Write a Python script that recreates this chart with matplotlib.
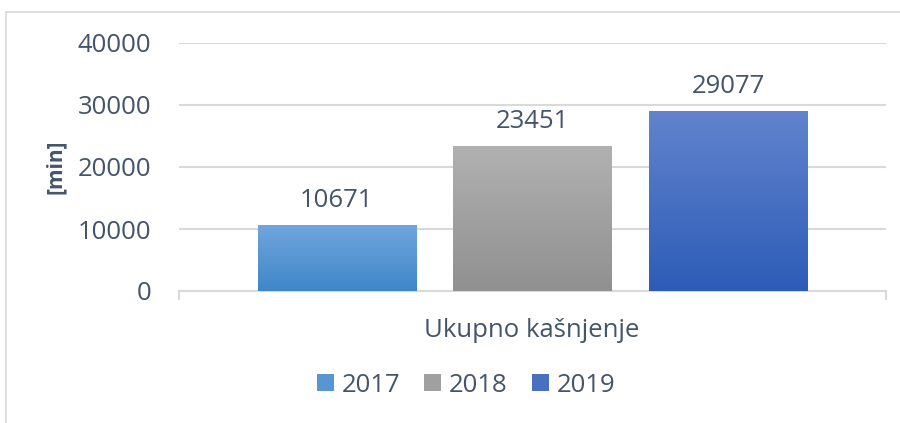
import matplotlib.pyplot as plt
import matplotlib.colors as mcolors
import numpy as np
from matplotlib.patches import Patch

plt.rcParams['font.family'] = ['Open Sans', 'DejaVu Sans']

years = ['2017', '2018', '2019']
values = [10671, 23451, 29077]
category = 'Ukupno kašnjenje'
# gradient colours for each bar: (top, bottom)
grad = [('#71a7dd', '#3f86c8'),
        ('#b1b1b1', '#909090'),
        ('#6284cd', '#2d5cb7')]
txt = '#44546a'
grid_c = '#d9d9d9'
fs = 18.5

fig = plt.figure(figsize=(9, 4.23), dpi=100)
ax = fig.add_axes([179/900, 1-291/423, 707/900, 248/423])

step = 0.277
width = 0.2235
pos = [(i - 1) * step for i in range(len(values))]

bars = ax.bar(pos, values, width=width, color='none', zorder=3)
for b, (top, bot) in zip(bars, grad):
    cmap = mcolors.LinearSegmentedColormap.from_list('g', [bot, top])
    x0, y0 = b.get_x(), b.get_y()
    w, h = b.get_width(), b.get_height()
    im = ax.imshow(np.linspace(0, 1, 256).reshape(-1, 1), cmap=cmap, origin='lower',
                   extent=[x0, x0 + w, y0, y0 + h], aspect='auto', zorder=3)
    im.set_clip_path(b)
    ax.text(x0 + w/2, h + 1900, f'{h:d}', ha='center', va='bottom',
            fontsize=fs, color=txt)

ax.set_xlim(-0.5, 0.5)
ax.set_ylim(0, 40000)
ax.set_yticks([0, 10000, 20000, 30000, 40000])
ax.tick_params(axis='y', length=0, labelsize=fs, labelcolor=txt, pad=20)
ax.set_xticks([])
ax.grid(axis='y', color=grid_c, lw=1.5, zorder=0)
for s in ['top', 'right', 'left']:
    ax.spines[s].set_visible(False)
ax.spines['bottom'].set_color(grid_c)
ax.spines['bottom'].set_linewidth(1.5)
# category boundary ticks
for xb in [-0.5, 0.5]:
    ax.plot([xb, xb], [0, -1300], color=grid_c, lw=1.5, clip_on=False)

ax.set_ylabel('[min]', fontsize=15, fontweight='bold', color=txt)
ax.yaxis.set_label_coords((66 - 179) / 707, 0.5)
fig.text(532/900, 1-330/423, category, ha='center', va='center', fontsize=fs, color=txt)

handles = [Patch(facecolor=mcolors.to_hex(np.mean([mcolors.to_rgb(t), mcolors.to_rgb(b)], axis=0)))
           for t, b in grad]
fig.legend(handles, years, loc='center', bbox_to_anchor=(466/900, 1-385/423), ncol=3,
           frameon=False, fontsize=fs, labelcolor=txt, handlelength=0.65, handleheight=0.65,
           handletextpad=0.3, columnspacing=0.95)

# chart frame
fig.add_artist(plt.Line2D([6/900, 6/900], [0, 1-12/423], color=grid_c, lw=1.2))
fig.add_artist(plt.Line2D([6/900, 1], [1-12/423, 1-12/423], color=grid_c, lw=1.2))

fig.savefig('out.png', dpi=100)
